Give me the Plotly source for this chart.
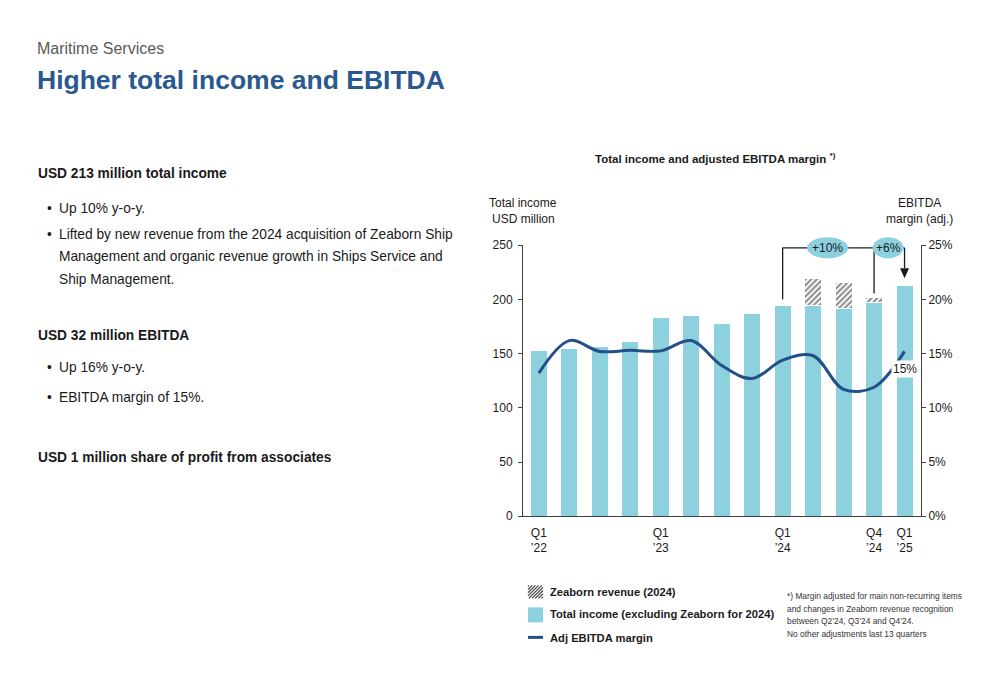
import plotly.graph_objects as go

# ---------------- data ----------------
quarters = ["Q1'22", "Q2'22", "Q3'22", "Q4'22", "Q1'23", "Q2'23", "Q3'23",
            "Q4'23", "Q1'24", "Q2'24", "Q3'24", "Q4'24", "Q1'25"]
income_ex_zeaborn = [153, 155, 157, 161, 183, 185, 178, 187, 194, 194, 192, 197, 213]
zeaborn_revenue = [None, None, None, None, None, None, None, None, None, 25, 24, 4.5, None]
ebitda_margin = [13.2, 16.2, 15.2, 15.3, 15.25, 16.2, 13.9, 12.7, 14.4, 14.8, 11.7, 11.9, 15.2]
tick_idx = [0, 4, 8, 11, 12]
tick_text = ["Q1<br>’22", "Q1<br>’23", "Q1<br>’24", "Q4<br>’24", "Q1<br>’25"]
y_ticks = [0, 50, 100, 150, 200, 250]
y2_ticks = [0, 5, 10, 15, 20, 25]
y2_text = ["0%", "5%", "10%", "15%", "20%", "25%"]
growth_labels = ["+10%", "+6%"]
last_margin_label = "15%"

# ---------------- style ----------------
W, H = 1000, 685
FONT = "Liberation Sans, Arial, sans-serif"
BAR = "#8DD0DE"
LINE = "#24508A"
AX = "#404040"
TXT = "#1a1a1a"
TITLE_BLUE = "#2A5890"
VS, VO = 0.979, 7.0   # observed vertical scale / offset of the captured page


def sy(Y):
    return (Y - VO) / VS


def px(x):
    return x / W


def py(Y):
    return 1 - sy(Y) / H


XD = [0.523, 0.921]
XR = [-0.52, 12.54]
YD = [py(516), py(245)]
YR = [0, 250]


def xp(i):
    return XD[0] + (i - XR[0]) / (XR[1] - XR[0]) * (XD[1] - XD[0])


def yp(v):
    return YD[0] + (v - YR[0]) / (YR[1] - YR[0]) * (YD[1] - YD[0])


x = list(range(len(quarters)))
totals = [a + (b or 0) for a, b in zip(income_ex_zeaborn, zeaborn_revenue)]

fig = go.Figure()
fig.add_trace(go.Bar(
    x=x, y=income_ex_zeaborn, width=0.56, name="Total income (excluding Zeaborn for 2024)",
    marker=dict(color=BAR, line=dict(color="white", width=1)),
    customdata=quarters, hovertemplate="%{customdata}: %{y}<extra></extra>",
))
fig.add_trace(go.Bar(
    x=x, y=zeaborn_revenue, width=0.56, name="Zeaborn revenue (2024)",
    marker=dict(color="white", line=dict(color="white", width=1),
                pattern=dict(shape="/", fgcolor="#111111", size=4, solidity=0.5)),
    customdata=quarters, hovertemplate="%{customdata}: %{y}<extra></extra>",
))
fig.add_trace(go.Scatter(
    x=x, y=ebitda_margin, yaxis="y2", mode="lines", name="Adj EBITDA margin",
    line=dict(color=LINE, width=3, shape="spline", smoothing=1.0),
    customdata=quarters, hovertemplate="%{customdata}: %{y}%<extra></extra>",
))

shapes = []
annotations = []

# bracket for growth
lvl = 247.5
i_a, i_b, i_c = 8, 11, 12
shapes.append(dict(type="line", xref="x", yref="y", x0=i_a, x1=i_a, y0=totals[i_a] + 6, y1=lvl,
                   line=dict(color=TXT, width=1.3)))
shapes.append(dict(type="line", xref="x", yref="y", x0=i_b, x1=i_b, y0=totals[i_b] + 4, y1=lvl,
                   line=dict(color=TXT, width=1.3)))
shapes.append(dict(type="line", xref="x", yref="y", x0=i_a, x1=i_c, y0=lvl, y1=lvl,
                   line=dict(color=TXT, width=1.3)))
# arrow down to the latest bar
ax_, tip = xp(i_c), yp(totals[i_c] + 6.5)
base = tip + 10 / VS / H
shapes.append(dict(type="line", xref="paper", yref="paper", x0=ax_, x1=ax_, y0=base, y1=yp(lvl),
                   line=dict(color=TXT, width=1.3)))
shapes.append(dict(type="path", xref="paper", yref="paper",
                   path=f"M {ax_ - 4.5 / W} {base} L {ax_ + 4.5 / W} {base} L {ax_} {tip} Z",
                   fillcolor=TXT, line=dict(width=0)))

# bubbles
for ci, hw, lab in [(9.475, 20.5, growth_labels[0]), (11.46, 15.5, growth_labels[1])]:
    cx, cy = xp(ci), yp(lvl)
    hh = 10.5 / VS / H
    shapes.append(dict(type="circle", xref="paper", yref="paper",
                       x0=cx - hw / W, x1=cx + hw / W, y0=cy - hh, y1=cy + hh,
                       fillcolor=BAR, line=dict(width=0), layer="above"))
    annotations.append(dict(x=cx, y=cy, xref="paper", yref="paper", text=lab, showarrow=False,
                            font=dict(size=12, color=TXT), xanchor="center", yanchor="middle"))

# label for the last margin
annotations.append(dict(x=12, y=ebitda_margin[-1] - 1.6, xref="x", yref="y2", text=last_margin_label,
                        showarrow=False, font=dict(size=12, color=TXT), bgcolor="white",
                        borderpad=1, xanchor="center", yanchor="middle"))

# axis titles
for txt, cx, cy in [("Total income", 523, 203), ("USD million", 523, 219),
                    ("EBITDA", 919, 203), ("margin (adj.)", 919, 219)]:
    annotations.append(dict(x=px(cx), y=py(cy), xref="paper", yref="paper", text=txt, showarrow=False,
                            font=dict(size=12, color=TXT), xanchor="center", yanchor="middle"))

# chart title
annotations.append(dict(x=px(715), y=py(158), xref="paper", yref="paper",
                        text="<b>Total income and adjusted EBITDA margin <sup>*)</sup></b>",
                        showarrow=False, font=dict(size=11.5, color=TXT), xanchor="center", yanchor="middle"))

# legend (custom)
lx0, lx1 = 528, 543
hy0, hy1 = 585, 598
shapes.append(dict(type="rect", xref="paper", yref="paper", x0=px(lx0), x1=px(lx1), y0=py(hy1), y1=py(hy0),
                   fillcolor="white", line=dict(width=0)))
w_, h_ = lx1 - lx0, hy1 - hy0
c = -h_ + 1
while c < w_:
    u1, u2 = max(0, c), min(w_, h_ + c)
    if u2 > u1:
        shapes.append(dict(type="line", xref="paper", yref="paper",
                           x0=px(lx0 + u1), y0=py(hy1 - (u1 - c)), x1=px(lx0 + u2), y1=py(hy1 - (u2 - c)),
                           line=dict(color="#444444", width=1.2)))
    c += 3.2
shapes.append(dict(type="rect", xref="paper", yref="paper", x0=px(lx0), x1=px(lx1), y0=py(622), y1=py(607),
                   fillcolor=BAR, line=dict(width=0)))
shapes.append(dict(type="line", xref="paper", yref="paper", x0=px(lx0), x1=px(lx1), y0=py(637), y1=py(637),
                   line=dict(color=LINE, width=3)))
for txt, cy in [("Zeaborn revenue (2024)", 592), ("Total income (excluding Zeaborn for 2024)", 614),
                ("Adj EBITDA margin", 637.5)]:
    annotations.append(dict(x=px(548), y=py(cy), xref="paper", yref="paper", text="<b>" + txt + "</b>",
                            showarrow=False, font=dict(size=11.2, color=TXT), xanchor="left", yanchor="middle"))

# footnote
foot = ["*) Margin adjusted for main non-recurring items",
        "and changes in Zeaborn revenue recognition",
        "between Q2’24, Q3’24 and Q4’24.",
        "No other adjustments last 13 quarters"]
for k, line in enumerate(foot):
    annotations.append(dict(x=px(785), y=py(596 + 12.5 * k), xref="paper", yref="paper", text=line,
                            showarrow=False, font=dict(size=8.4, color="#333333"), xanchor="left",
                            yanchor="middle"))

# page headings
annotations.append(dict(x=px(35), y=py(48), xref="paper", yref="paper", text="Maritime Services",
                        showarrow=False, font=dict(size=16, color="#595959"), xanchor="left", yanchor="middle"))
annotations.append(dict(x=px(35), y=py(80), xref="paper", yref="paper", text="<b>Higher total income and EBITDA</b>",
                        showarrow=False, font=dict(size=26.5, color=TITLE_BLUE), xanchor="left", yanchor="middle"))

# left text
BODY = 13.75
heads = [("USD 213 million total income", 173), ("USD 32 million EBITDA", 335),
         ("USD 1 million share of profit from associates", 457)]
for txt, cy in heads:
    annotations.append(dict(x=px(36), y=py(cy), xref="paper", yref="paper", text="<b>" + txt + "</b>",
                            showarrow=False, font=dict(size=BODY, color=TXT), xanchor="left", yanchor="middle"))
bullets = [(["Up 10% y-o-y."], 208),
           (["Lifted by new revenue from the 2024 acquisition of Zeaborn Ship",
             "Management and organic revenue growth in Ships Service and",
             "Ship Management."], 234),
           (["Up 16% y-o-y."], 367),
           (["EBITDA margin of 15%."], 397)]
for lines, cy in bullets:
    annotations.append(dict(x=px(45), y=py(cy), xref="paper", yref="paper", text="•",
                            showarrow=False, font=dict(size=BODY, color=TXT), xanchor="left", yanchor="middle"))
    for k, line in enumerate(lines):
        annotations.append(dict(x=px(57), y=py(cy + 22.5 * k), xref="paper", yref="paper", text=line,
                                showarrow=False, font=dict(size=BODY, color=TXT), xanchor="left",
                                yanchor="middle"))

fig.update_layout(
    width=W, height=H, margin=dict(l=0, r=0, t=0, b=0),
    paper_bgcolor="white", plot_bgcolor="white",
    barmode="stack", showlegend=False,
    font=dict(family=FONT, color=TXT, size=12),
    xaxis=dict(domain=XD, range=XR, tickmode="array", tickvals=tick_idx, ticktext=tick_text,
               showline=True, linecolor=AX, linewidth=1, ticks="", showgrid=False, zeroline=False,
               tickfont=dict(size=12, color=TXT), ticklabelstandoff=5),
    yaxis=dict(domain=YD, range=YR, tickmode="array", tickvals=y_ticks, showline=True, linecolor=AX,
               linewidth=1, ticks="outside", ticklen=4, tickcolor=AX, showgrid=False, zeroline=False,
               tickfont=dict(size=12, color=TXT), ticklabelstandoff=3),
    yaxis2=dict(overlaying="y", side="right", anchor="x", range=[0, 25], tickmode="array",
                tickvals=y2_ticks, ticktext=y2_text,
                showline=True, linecolor=AX, linewidth=1, ticks="outside", ticklen=4, tickcolor=AX,
                showgrid=False, zeroline=False, tickfont=dict(size=12, color=TXT)),
    shapes=shapes, annotations=annotations,
)

fig.write_html(
    "out.html",
    config={"displayModeBar": False},
    post_script=("document.documentElement.style.margin='0px';document.body.style.margin='0px';"
                 "var d=document.getElementById('{plot_id}');d.style.position='fixed';"
                 "d.style.top='0px';d.style.left='0px';"),
)
